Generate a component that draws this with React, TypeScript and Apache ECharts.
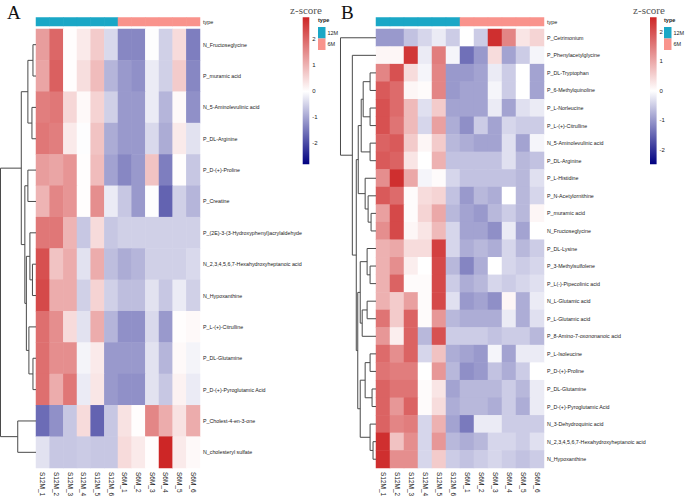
import React, { useEffect, useRef } from "react";
import * as echarts from "echarts";

// ---------- data ----------
const samples = ["S12M_1", "S12M_2", "S12M_3", "S12M_4", "S12M_5", "S12M_6", "S6M_1", "S6M_2", "S6M_3", "S6M_4", "S6M_5", "S6M_6"];
const sampleType = [0, 0, 0, 0, 0, 0, 1, 1, 1, 1, 1, 1];
const typeNames = ["12M", "6M"];
const typeColors = ["#1AA7C6", "#F9938C"];
const legendTicks = [-2, -1, 0, 1, 2];

const rowsA = [
  "N_Fructoseglycine", "P_muramic acid", "N_5-Aminolevulinic acid", "P_DL-Arginine", "P_D-(+)-Proline", "P_Creatine",
  "P_(2E)-3-(3-Hydroxyphenyl)acrylaldehyde", "N_2,3,4,5,6,7-Hexahydroxyheptanoic acid", "N_Hypoxanthine",
  "P_L-(+)-Citrulline", "P_DL-Glutamine", "P_D-(+)-Pyroglutamic Acid", "P_Cholest-4-en-3-one", "N_cholesteryl sulfate",
];
const valuesA = [
  [1.3, 2.0, 0.05, 0.3, 0.7, -0.4, -1.3, -1.3, 0.0, -0.5, 0.5, -1.4],
  [1.2, 2.1, 0.05, 0.45, 0.9, -0.8, -1.1, -1.2, -0.2, -0.5, 0.7, -1.3],
  [1.7, 1.8, 0.55, 0.1, 0.6, -0.5, -1.1, -1.1, -0.2, -0.8, 0.1, -1.2],
  [1.8, 1.7, 0.3, 0.0, 0.8, -0.9, -1.1, -1.1, -0.4, -0.9, 0.3, -0.3],
  [1.3, 1.2, 1.4, 0.05, 0.9, -1.0, -1.3, -1.1, 0.8, -1.4, 0.05, -0.6],
  [1.0, 1.6, 1.4, 0.05, 1.5, -0.2, -0.6, -1.1, 0.0, -1.7, -0.5, -0.8],
  [1.8, 1.8, 1.0, -0.6, 0.5, -0.6, -0.5, -0.5, -0.5, -0.5, -0.5, -0.5],
  [2.3, 0.8, 1.1, -0.3, 1.1, -0.7, -0.9, -0.8, -0.5, -0.5, -0.5, -0.4],
  [2.4, 1.1, 1.1, -0.5, 0.6, -0.5, -0.7, -0.7, -0.3, -0.6, -0.2, -0.5],
  [1.9, 1.5, 0.5, -0.3, 1.1, -0.8, -1.2, -1.2, -0.4, -1.1, 0.05, 0.1],
  [1.9, 1.5, 1.5, -0.1, 0.3, -1.1, -1.1, -1.1, -0.3, -0.8, 0.1, -0.1],
  [1.9, 1.1, 1.8, -0.2, 0.35, -1.1, -1.2, -1.2, -0.3, -0.6, 0.2, -0.2],
  [-1.6, -1.2, -0.6, 0.5, -1.7, -0.6, 0.4, 0.05, 1.6, 1.1, 0.4, 1.1],
  [-0.3, -0.6, -0.6, -0.55, -0.6, -0.6, 0.5, 0.3, 0.05, 2.85, 0.3, 0.1],
];
// hclust-style merges: negative = leaf (row number), positive = earlier merge; third = height
const mergesA = [
  [-1, -2, 3], [-3, -4, 4], [1, 2, 8], [-5, -6, 8], [-8, -9, 3.5], [-7, 5, 6], [-11, -12, 3],
  [-10, 7, 7], [6, 8, 9.5], [4, 9, 11], [3, 10, 14.5], [-13, -14, 18], [11, 12, 35],
];
const rangeA = [-2.8, 2.85];

const rowsB = [
  "P_Cetrimonium", "P_Phenylacetylglycine", "P_DL-Tryptophan", "P_6-Methylquinoline", "P_L-Norleucine",
  "P_L-(+)-Citrulline", "N_5-Aminolevulinic acid", "P_DL-Arginine", "P_L-Histidine", "P_N-Acetylornithine",
  "P_muramic acid", "N_Fructoseglycine", "P_DL-Lysine", "P_3-Methylsulfolene", "P_L(-)-Pipecolinic acid",
  "N_L-Glutamic acid", "P_L-Glutamic acid", "P_8-Amino-7-oxononanoic acid", "P_L-Isoleucine", "P_D-(+)-Proline",
  "P_DL-Glutamine", "P_D-(+)-Pyroglutamic Acid", "N_3-Dehydroquinic acid",
  "N_2,3,4,5,6,7-Hexahydroxyheptanoic acid", "N_Hypoxanthine",
];
const valuesB = [
  [-1.0, -1.0, -0.6, -0.4, -0.2, -0.5, 0.0, -0.5, 2.4, 1.4, 0.3, 0.5],
  [0.1, 0.1, 2.3, -0.2, 1.5, -0.1, -1.4, -1.0, 0.4, -0.9, -0.5, -0.1],
  [1.4, 2.0, 0.4, -0.1, 1.4, -1.0, -1.0, -0.9, -0.2, -0.5, 0.0, -0.9],
  [1.9, 1.7, 0.1, 0.05, 1.4, -1.0, -0.9, -0.9, -0.1, -0.5, 0.0, -0.9],
  [2.0, 1.7, 0.8, -0.3, 0.6, -0.9, -0.9, -0.9, -0.2, -0.9, -0.3, -0.2],
  [2.0, 1.6, 0.8, -0.4, 1.1, -0.8, -1.1, -0.5, -0.9, -0.4, -0.5, -0.5],
  [1.8, 1.9, 0.6, 0.1, 0.6, -0.7, -0.8, -0.9, -0.9, -0.3, -0.9, -0.1],
  [1.9, 1.8, 0.3, 0.0, 0.9, -0.6, -0.6, -0.6, -0.6, -0.3, -0.7, -0.6],
  [1.3, 2.4, 1.0, -0.1, 0.05, -0.4, -0.6, -0.6, -0.6, -0.6, -0.7, -0.3],
  [1.9, 1.7, 0.05, 0.4, 0.5, -0.6, -1.0, -0.7, -0.8, 0.0, -0.7, -0.4],
  [1.1, 2.1, 0.05, 0.5, 1.0, -0.7, -0.9, -1.0, -0.7, -0.5, -0.7, 0.1],
  [1.3, 2.1, 0.1, 0.3, 0.8, -0.4, -0.9, -0.9, -1.1, -0.2, -0.9, 0.0],
  [0.9, 1.0, 0.4, 0.4, 2.2, -0.4, -0.8, -0.7, -0.8, -0.4, -0.7, -0.5],
  [0.9, 1.3, 0.2, 0.0, 2.1, -0.7, -1.2, -0.8, 0.0, -0.4, -0.5, -0.4],
  [0.9, 1.8, 0.05, 0.05, 2.1, -0.5, -0.8, -0.7, -0.4, -0.5, -0.4, -0.3],
  [0.9, 0.6, 1.1, 0.05, 2.1, -0.3, -1.0, -0.9, -1.1, 0.1, -0.8, -0.2],
  [1.6, 0.6, 1.8, 0.05, 1.2, -0.7, -0.8, -0.8, -0.8, -0.2, -0.8, -0.3],
  [1.2, 0.2, 1.8, -0.7, 2.0, -0.5, -0.5, -0.5, -0.6, -0.5, -0.5, -0.7],
  [1.7, 1.3, 1.8, -0.4, 0.7, -0.8, -0.9, -1.0, -0.1, -0.9, -0.2, -0.2],
  [1.6, 1.5, 1.5, 0.0, 1.2, -0.7, -1.1, -1.0, -0.6, -0.8, -0.5, 0.0],
  [1.8, 1.6, 1.6, 0.05, 0.3, -0.9, -0.7, -0.7, -0.7, -0.5, -0.7, -0.2],
  [1.8, 1.2, 1.8, 0.05, 0.4, -0.8, -0.7, -0.7, -0.8, -0.5, -0.8, -0.2],
  [1.8, 1.4, 1.5, -0.4, 0.9, -0.9, -1.3, -0.2, -0.2, -0.5, -0.5, -0.5],
  [2.4, 0.7, 1.3, -0.4, 1.2, -0.7, -0.8, -0.7, -0.4, -0.4, -0.5, -0.3],
  [2.4, 1.3, 1.3, -0.4, 0.6, -0.5, -0.6, -0.5, -0.4, -0.5, -0.6, -0.5],
];
const mergesB = [
  [-3, -4, 6], [-5, -6, 6], [1, 2, 13], [-7, -8, 6], [3, 4, 15], [-11, -12, 5], [-10, 6, 8], [-9, 7, 11],
  [5, 8, 18], [-14, -15, 6], [-13, 10, 9], [-16, -17, 9], [12, -18, 14], [11, 13, 16], [-19, -20, 6],
  [-21, -22, 4], [15, 16, 11], [-24, -25, 3], [-23, 18, 6], [17, 19, 16], [14, 20, 18.5], [9, 21, 20],
  [-2, 22, 24], [-1, 23, 36],
];
const rangeB = [-2.5, 2.5];

// ---------- styling ----------
const NAVY = "#000080";
const RED = "#CD2626";
const SANS = "'Liberation Sans', Arial, sans-serif";
const SERIF = "'Liberation Serif', 'Times New Roman', serif";

function dendroLines(merges: number[][]) {
  const pos: { y: number; h: number }[] = [];
  const out: any[] = [];
  const get = (c: number) => (c < 0 ? { y: -c - 1 + 0.5, h: 0 } : pos[c - 1]);
  merges.forEach(([a, b, h]) => {
    const A = get(a);
    const B = get(b);
    out.push({ coords: [[A.h, A.y], [h, A.y], [h, B.y], [B.h, B.y]] });
    pos.push({ y: (A.y + B.y) / 2, h });
  });
  return out;
}

function buildPanel(
  p: number,
  rows: string[],
  values: number[][],
  merges: number[][],
  range: number[],
  L: { heatLeft: number; heatWidth: number; barLeft: number }
) {
  const g = p * 4;
  const top = 29;
  const height = 439;
  const maxH = Math.max(...merges.map((m) => m[2]));
  const grids = [
    { left: L.heatLeft, top, width: L.heatWidth, height },
    { left: L.heatLeft, top: 17.5, width: L.heatWidth, height: 8.5 },
    { left: L.heatLeft - 36, top, width: 36, height },
    { left: L.barLeft, top: 17.3, width: 6.6, height: 147 },
  ];
  const hidden = { show: false };
  const xAxes = [
    {
      gridIndex: g, type: "category", data: samples, position: "bottom",
      axisLine: hidden, axisTick: hidden, splitLine: hidden,
      axisLabel: { rotate: -90, fontSize: 6.5, margin: 4, color: "#222", interval: 0, fontFamily: SANS },
    },
    { gridIndex: g + 1, type: "category", data: samples, show: false },
    { gridIndex: g + 2, type: "value", min: 0, max: maxH + 0.5, inverse: true, show: false },
    { gridIndex: g + 3, type: "value", min: 0, max: 1, show: false },
  ];
  const yAxes = [
    {
      gridIndex: g, type: "category", data: rows, inverse: true, position: "right",
      axisLine: hidden, axisTick: hidden, splitLine: hidden,
      axisLabel: { fontSize: 5.3, margin: 3, color: "#222", interval: 0, fontFamily: SANS },
    },
    {
      gridIndex: g + 1, type: "category", data: ["type"], position: "right",
      axisLine: hidden, axisTick: hidden,
      axisLabel: { fontSize: 5.5, margin: 3, color: "#222", fontFamily: SANS },
    },
    { gridIndex: g + 2, type: "value", min: 0, max: rows.length, inverse: true, show: false },
    {
      gridIndex: g + 3, type: "value", min: range[0], max: range[1], position: "right",
      axisLine: hidden, axisTick: hidden, splitLine: hidden,
      axisLabel: { customValues: legendTicks, fontSize: 6, margin: 3, color: "#222", fontFamily: SANS },
    },
  ];
  const heatData: number[][] = [];
  values.forEach((row, r) => row.forEach((v, c) => heatData.push([c, r, v])));
  const mid = range[1] / (range[1] - range[0]);
  const series = [
    {
      type: "heatmap", xAxisIndex: g, yAxisIndex: g, data: heatData,
      itemStyle: { borderWidth: 0 }, emphasis: { disabled: true }, silent: true,
    },
    {
      type: "heatmap", xAxisIndex: g + 1, yAxisIndex: g + 1,
      data: sampleType.map((t, i) => [i, 0, t]),
      itemStyle: { borderWidth: 0 }, emphasis: { disabled: true }, silent: true,
    },
    {
      type: "lines", coordinateSystem: "cartesian2d", xAxisIndex: g + 2, yAxisIndex: g + 2,
      polyline: true, silent: true, data: dendroLines(merges),
      lineStyle: { color: "#4a4a4a", width: 1, opacity: 1 },
    },
    {
      type: "custom", xAxisIndex: g + 3, yAxisIndex: g + 3, silent: true,
      data: [[0, range[0], range[1]]],
      encode: { x: 0, y: [1, 2] },
      renderItem: (_params: any, api: any) => {
        const p1 = api.coord([0, api.value(2)]);
        const p2 = api.coord([1, api.value(1)]);
        return {
          type: "rect",
          shape: { x: p1[0], y: p1[1], width: p2[0] - p1[0], height: p2[1] - p1[1] },
          style: {
            fill: new echarts.graphic.LinearGradient(0, 0, 0, 1, [
              { offset: 0, color: RED },
              { offset: mid, color: "#FFFFFF" },
              { offset: 1, color: NAVY },
            ]),
          },
        };
      },
    },
  ];
  const visualMaps = [
    {
      type: "continuous", show: false, seriesIndex: p * 4, dimension: 2,
      min: range[0], max: range[1], inRange: { color: [NAVY, "#FFFFFF", RED] },
    },
    {
      type: "piecewise", show: false, seriesIndex: p * 4 + 1, dimension: 2,
      pieces: typeColors.map((c, i) => ({ value: i, color: c })),
    },
  ];
  return { grids, xAxes, yAxes, series, visualMaps };
}

function typeLegend(x: number) {
  const els: any[] = [
    { type: "text", style: { text: "type", x, y: 20, font: `bold 5.5px ${SANS}`, fill: "#222", verticalAlign: "middle" } },
  ];
  typeNames.forEach((n, i) => {
    els.push({ type: "rect", shape: { x, y: 27 + i * 11.5, width: 7.5, height: 11.5 }, style: { fill: typeColors[i] } });
    els.push({ type: "text", style: { text: n, x: x + 9.5, y: 32.5 + i * 11.5, font: `5.5px ${SANS}`, fill: "#222", verticalAlign: "middle" } });
  });
  return els;
}

export default function App() {
  const ref = useRef<HTMLDivElement>(null);
  useEffect(() => {
    if (!ref.current) return;
    const chart = echarts.init(ref.current, undefined, { renderer: "svg" });
    const a = buildPanel(0, rowsA, valuesA, mergesA, rangeA, { heatLeft: 36, heatWidth: 164, barLeft: 302.7 });
    const b = buildPanel(1, rowsB, valuesB, mergesB, rangeB, { heatLeft: 376, heatWidth: 168, barLeft: 650 });
    chart.setOption({
      animation: false,
      backgroundColor: "#ffffff",
      grid: [...a.grids, ...b.grids],
      xAxis: [...a.xAxes, ...b.xAxes],
      yAxis: [...a.yAxes, ...b.yAxes],
      series: [...a.series, ...b.series],
      visualMap: [...a.visualMaps, ...b.visualMaps],
      graphic: [
        { type: "text", style: { text: "A", x: 7, y: 3, font: `19px ${SERIF}`, fill: "#111" } },
        { type: "text", style: { text: "B", x: 341, y: 3, font: `19px ${SERIF}`, fill: "#111" } },
        { type: "text", style: { text: "z-score", x: 306, y: 10, font: `11px ${SERIF}`, fill: "#555", align: "center", verticalAlign: "middle" } },
        { type: "text", style: { text: "z-score", x: 649, y: 10, font: `11px ${SERIF}`, fill: "#555", align: "center", verticalAlign: "middle" } },
        ...typeLegend(318),
        ...typeLegend(664),
      ],
    });
    return () => chart.dispose();
  }, []);
  return <div ref={ref} style={{ position: "absolute", left: 0, top: 0, width: 685, height: 500 }} />;
}
